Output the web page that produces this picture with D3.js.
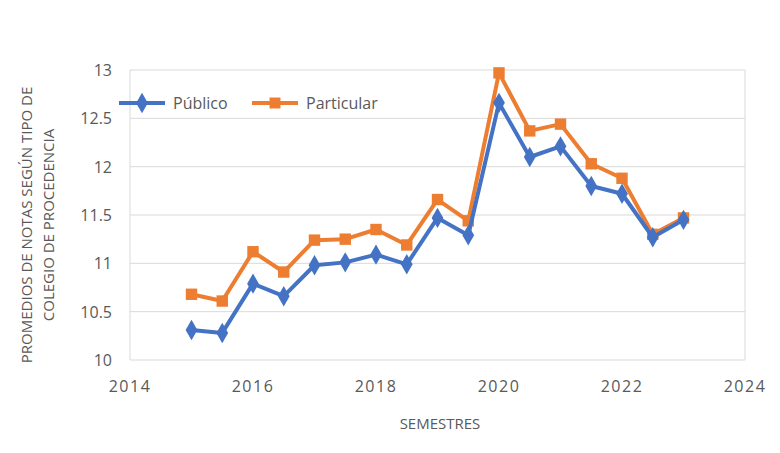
<!DOCTYPE html>
<html><head><meta charset="utf-8">
<script src="https://cdn.jsdelivr.net/npm/d3@7"></script>
<style>body{margin:0;background:#fff}text{font-family:"Open Sans","DejaVu Sans",sans-serif}</style>
</head><body><svg id="c" width="780" height="453"></svg>
<script>
const xs=[2015,2015.5,2016,2016.5,2017,2017.5,2018,2018.5,2019,2019.5,2020,2020.5,2021,2021.5,2022,2022.5,2023];
const publico=[10.31,10.28,10.79,10.66,10.98,11.01,11.09,10.99,11.47,11.29,12.66,12.10,12.21,11.80,11.72,11.27,11.45];
const particular=[10.68,10.61,11.12,10.91,11.24,11.25,11.35,11.19,11.66,11.44,12.97,12.37,12.44,12.03,11.88,11.30,11.47];
const xTicks=[2014,2016,2018,2020,2022,2024];
const yTicks=[10,10.5,11,11.5,12,12.5,13];
const svg=d3.select("#c");
const x=d3.scaleLinear().domain([2014,2024]).range([130,745]);
const y=d3.scaleLinear().domain([10,13]).range([360,70]);
svg.append("g").selectAll("line").data(yTicks).join("line")
 .attr("x1",130).attr("x2",745).attr("y1",d=>y(d)).attr("y2",d=>y(d)).attr("stroke","#d9d9d9");
svg.append("line").attr("x1",130).attr("x2",130).attr("y1",70).attr("y2",360).attr("stroke","#d9d9d9");
svg.append("line").attr("x1",745).attr("x2",745).attr("y1",70).attr("y2",360).attr("stroke","#d9d9d9");
svg.append("g").selectAll("text").data(yTicks).join("text")
 .attr("x",112).attr("y",d=>y(d)+6).attr("text-anchor","end").attr("font-size",16).attr("fill","#595959").text(d=>d);
svg.append("g").selectAll("text").data(xTicks).join("text")
 .attr("x",d=>x(d)).attr("y",392).attr("text-anchor","middle").attr("font-size",16).attr("letter-spacing",1.5).attr("fill","#595959").text(d=>d);
svg.append("text").attr("x",440).attr("y",429).attr("text-anchor","middle").attr("font-size",15).attr("fill","#595959").text("SEMESTRES");
const yl=svg.append("text").attr("transform","translate(32,225) rotate(-90)").attr("text-anchor","middle").attr("font-size",15).attr("fill","#595959");
yl.append("tspan").attr("x",0).attr("dy",0).text("PROMEDIOS DE NOTAS SEGÚN TIPO DE");
yl.append("tspan").attr("x",0).attr("dy",22).text("COLEGIO DE PROCEDENCIA");
const line=d3.line().x((d,i)=>x(xs[i])).y(d=>y(d));
function series(data,col,shape){
 svg.append("path").datum(data).attr("d",line).attr("fill","none").attr("stroke",col).attr("stroke-width",4).attr("stroke-linejoin","round");
 svg.append("g").selectAll("path").data(data).join("path")
  .attr("transform",(d,i)=>`translate(${x(xs[i])},${y(d)})`)
  .attr("d",d3.symbol().type(shape).size(shape===d3.symbolSquare?130:120)).attr("fill",col);
}
series(particular,"#ED7D31",d3.symbolSquare);
series(publico,"#4472C4",d3.symbolDiamond);
function leg(x0,col,shape,label){
 svg.append("line").attr("x1",x0).attr("x2",x0+46).attr("y1",103).attr("y2",103).attr("stroke",col).attr("stroke-width",4);
 svg.append("path").attr("transform",`translate(${x0+23},103)`).attr("d",d3.symbol().type(shape).size(120)).attr("fill",col);
 svg.append("text").attr("x",x0+54).attr("y",109).attr("font-size",16).attr("fill","#595959").text(label);
}
leg(119,"#4472C4",d3.symbolDiamond,"Público");
leg(252,"#ED7D31",d3.symbolSquare,"Particular");
</script></body></html>
